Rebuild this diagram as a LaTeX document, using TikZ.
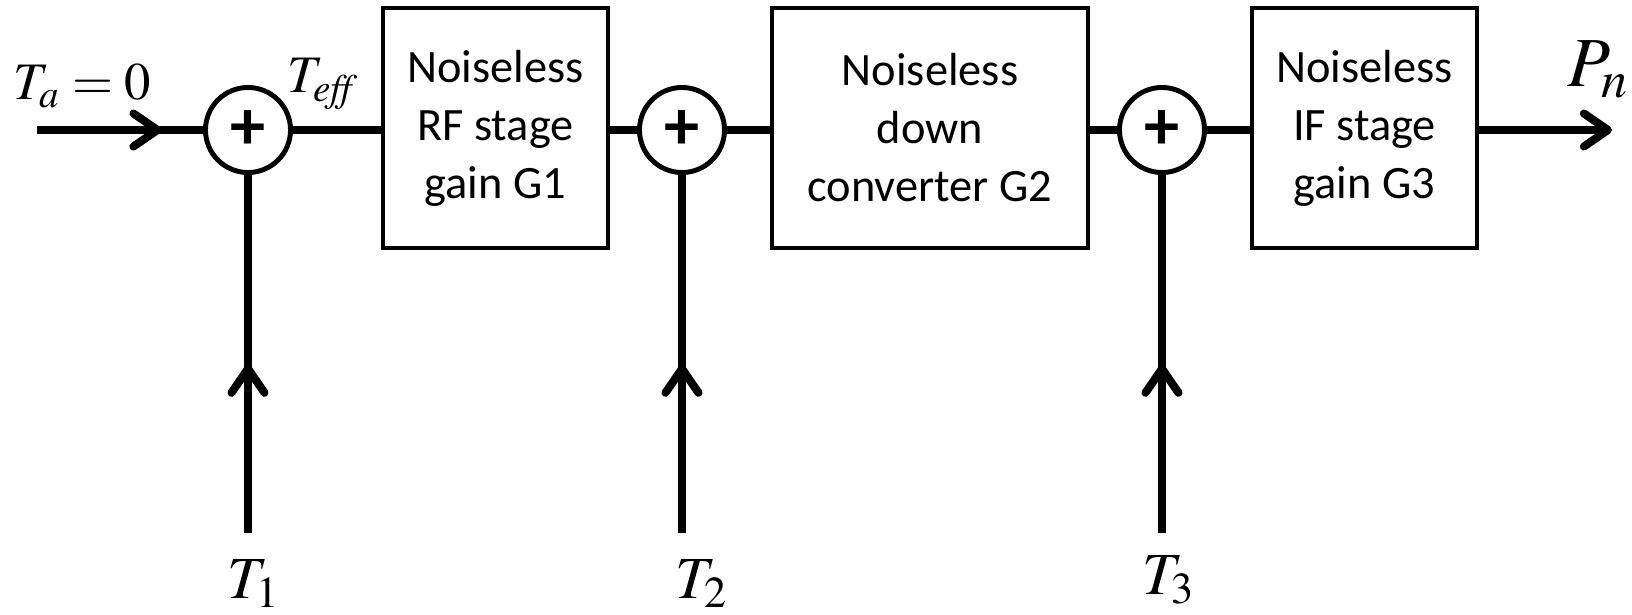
\documentclass[tikz,border=0pt]{standalone}
\usepackage{mathptmx}
\usepackage[no-math]{fontspec}
\setmainfont{Carlito}
\usepackage{tikz}
\usetikzlibrary{arrows.meta,decorations.markings}
\tikzstyle{signal} = [draw, line width=2.3pt]
\tikzstyle{block} = [draw, rectangle, line width=1.15pt, minimum height=2.4cm, inner sep=0pt, align=center, font=\fontsize{13.2}{16.5}\selectfont]
\tikzstyle{adder} = [draw, circle, line width=1.4pt, minimum size=0.85cm, inner sep=0pt, font=\fontsize{20}{20}\selectfont\bfseries]
\tikzstyle{lbl} = [inner sep=0pt, anchor=base west]
\tikzset{midarrow/.style={postaction={decorate}, decoration={markings, mark=at position #1 with {\arrow{>}}}}}

\begin{document}
\begin{tikzpicture}[x=0.01cm, y=-0.01cm, >={Straight Barb[length=2.4mm,width=3.3mm,round]}]
    \useasboundingbox (0,0) rectangle (1632,615);
    % adders and blocks
    \node[adder] (s1) at (248,130) {+};
    \node[block, minimum width=2.25cm] (g1) at (495.5,128) {Noiseless\\RF stage\\gain G1};
    \node[adder] (s2) at (682,130) {+};
    \node[block, minimum width=3.16cm] (g2) at (930,128) {Noiseless\\down\\converter G2};
    \node[adder] (s3) at (1162,130) {+};
    \node[block, minimum width=2.25cm] (g3) at (1364.5,128) {Noiseless\\IF stage\\gain G3};
    % free ends
    \coordinate (in) at (37,130);
    \coordinate (out) at (1612,130);
    \coordinate (n1) at (248,533);
    \coordinate (n2) at (682,533);
    \coordinate (n3) at (1162,533);
    % labels
    \node[lbl, font=\fontsize{15}{15}\selectfont] (ta) at (13,100) {$T_a = 0$};
    \node[lbl, font=\fontsize{15}{15}\selectfont] (teff) at (287,93) {$T_{\mathit{eff}}$};
    \node[lbl, font=\fontsize{17}{17}\selectfont] (t1) at (227,598) {$T_1$};
    \node[lbl, font=\fontsize{17}{17}\selectfont] (t2) at (675,598) {$T_2$};
    \node[lbl, font=\fontsize{17}{17}\selectfont] (t3) at (1142,594) {$T_3$};
    \node[lbl, font=\fontsize{20}{20}\selectfont] (pn) at (1567,87) {$P_n$};
    % signal path
    \path [signal, midarrow=0.75] (in) -- (s1);
    \path [signal] (s1) -- (s1 -| g1.west);
    \path [signal] (s2 -| g1.east) -- (s2);
    \path [signal] (s2) -- (s2 -| g2.west);
    \path [signal] (s3 -| g2.east) -- (s3);
    \path [signal] (s3) -- (s3 -| g3.west);
    \path [signal, ->] (out -| g3.east) -- (out);
    \path [signal, midarrow=0.47] (n1) -- (s1);
    \path [signal, midarrow=0.47] (n2) -- (s2);
    \path [signal, midarrow=0.47] (n3) -- (s3);
\end{tikzpicture}
\end{document}
